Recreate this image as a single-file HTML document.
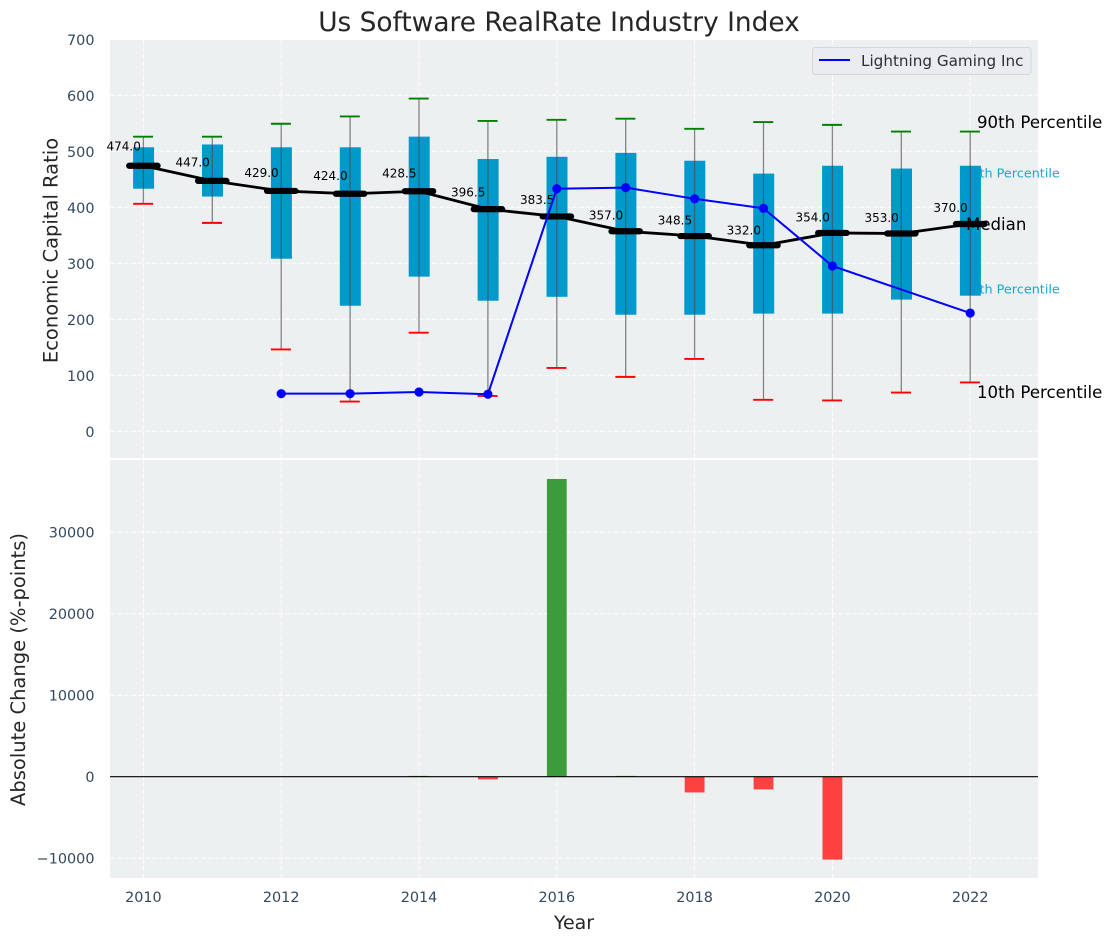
<!DOCTYPE html>
<html lang="en">
<head>
<meta charset="utf-8">
<title>Us Software RealRate Industry Index</title>
<style>
html,body{margin:0;padding:0;background:#fff;width:1112px;height:942px;overflow:hidden}
svg{display:block;font-family:"DejaVu Sans","Liberation Sans",sans-serif}
</style>
</head>
<body>
<svg id="chart" xmlns="http://www.w3.org/2000/svg" width="1112" height="942" viewBox="0 0 1112 942"></svg>
<script>
const years = [2010,2011,2012,2013,2014,2015,2016,2017,2018,2019,2020,2021,2022];
const p90 = [526,526,549,562,594,554,556,558,540,552,547,535,535];
const p75 = [507,512,507,507,526,486,490,497,483,460,474,469,474];
const medians = [474,447,429,424,428.5,396.5,383.5,357,348.5,332,354,353,370];
const p25 = [433,419,308,224,276,233,240,208,208,210,210,235,242];
const p10 = [406,372,146,53,176,63,113,97,129,56,55,69,87];
const company = [null,null,67,67,70,66,433,435,415,398,295,null,211];
const changes = [0,0,0,0,100,-330,36530,100,-1930,-1560,-10170,0,0];
const xTicks = [2010,2012,2014,2016,2018,2020,2022];
const topTicks = [0,100,200,300,400,500,600,700];
const bottomTicks = [-10000,0,10000,20000,30000];

const NS = 'http://www.w3.org/2000/svg';
const svg = document.getElementById('chart');
const PL = 110, PR = 1038, TT = 40, TB = 458, BT = 460, BB = 878;
function xPos(v){ return 143.4 + (v - 2010) * 68.9; }
function yTop(v){ return 431.2 - v * 0.56; }
function yBottom(v){ return 776.7 - v * 0.00815; }

function make(tag, attrs, text, parent){
  const el = document.createElementNS(NS, tag);
  for (const k in attrs) el.setAttribute(k, attrs[k]);
  if (text !== undefined && text !== null) el.textContent = text;
  (parent || svg).appendChild(el);
  return el;
}

// plot backgrounds
const topBg = make('rect',{x:PL,y:TT,width:PR-PL,height:TB-TT,fill:'#ecf0f1'});


const bottomBg = make('rect',{x:PL,y:BT,width:PR-PL,height:BB-BT,fill:'#ecf0f1'});



const GRID = {stroke:'#ffffff','stroke-width':1,'stroke-dasharray':'5 2',opacity:0.9};
function gridLine(x1,y1,x2,y2){
  const l = make('line',Object.assign({x1:x1,y1:y1,x2:x2,y2:y2},GRID));
  
  
}
xTicks.forEach(function(t){
  gridLine(xPos(t),TT,xPos(t),TB);
  gridLine(xPos(t),BT,xPos(t),BB);
  const lab = make('text',{x:xPos(t),y:902,'text-anchor':'middle','font-size':14.4,fill:'#34495e'},String(t));
  
  
});
topTicks.forEach(function(t){
  gridLine(PL,yTop(t),PR,yTop(t));
  const lab = make('text',{x:94.5,y:yTop(t)+5.8,'text-anchor':'end','font-size':14.4,fill:'#34495e'},String(t));
  
  
});
bottomTicks.forEach(function(t){
  gridLine(PL,yBottom(t),PR,yBottom(t));
  const lab = make('text',{x:94.5,y:yBottom(t)+5.3,'text-anchor':'end','font-size':14.4,fill:'#34495e'},(t<0?'\u2212':'')+Math.abs(t));
  
  
});

// percentile labels that sit behind the last box
const last = years.length - 1;
const label75 = make('text',{x:xPos(years[last])-7,y:yTop(p75[last])+11.7,'font-size':12.8,fill:'#00a0cc',opacity:0.9},'75th Percentile');


const label25 = make('text',{x:xPos(years[last])-7,y:yTop(p25[last])-2.2,'font-size':12.8,fill:'#00a0cc',opacity:0.9},'25th Percentile');



// boxes, whiskers and caps
years.forEach(function(yr,i){
  const cx = xPos(yr);
  const box = make('rect',{x:cx-10.3,y:yTop(p75[i]),width:21,height:yTop(p25[i])-yTop(p75[i]),fill:'#0099cc'});
  
  
  const whisker = make('line',{x1:cx,y1:yTop(p90[i]),x2:cx,y2:yTop(p10[i]),stroke:'#4a4a4a','stroke-width':1.3,opacity:0.65});
  
  
  const capTop = make('line',{x1:cx-10.3,y1:yTop(p90[i]),x2:cx+9.7,y2:yTop(p90[i]),stroke:'#008000','stroke-width':1.9});
  
  
  const capBottom = make('line',{x1:cx-10.3,y1:yTop(p10[i]),x2:cx+9.7,y2:yTop(p10[i]),stroke:'#ff0000','stroke-width':1.9});
  
  
});

// median line
const medianPts = years.map(function(yr,i){ return xPos(yr)+','+yTop(medians[i]); }).join(' ');
const medianLine = make('polyline',{points:medianPts,fill:'none',stroke:'#000000','stroke-width':2.8});


years.forEach(function(yr,i){
  const cx = xPos(yr), cy = yTop(medians[i]);
  const seg = make('line',{x1:cx-14.2,y1:cy,x2:cx+14.2,y2:cy,stroke:'#000000','stroke-width':6.2,'stroke-linecap':'round'});
  
  
  const val = make('text',{x:cx-2.5,y:yTop(medians[i]*1.056)-0.4,'text-anchor':'end','font-size':12,fill:'#000000'},medians[i].toFixed(1));
  
  
});

// company series
const companyPts = [];
years.forEach(function(yr,i){ if (company[i] !== null) companyPts.push(xPos(yr)+','+yTop(company[i])); });
const companyLine = make('polyline',{points:companyPts.join(' '),fill:'none',stroke:'#0000ff','stroke-width':2});


years.forEach(function(yr,i){
  if (company[i] === null) return;
  const dot = make('circle',{cx:xPos(yr),cy:yTop(company[i]),r:4.6,fill:'#0000ff'});
  
  
});

// right-side annotations
const label90 = make('text',{x:977,y:128,'font-size':16.6,fill:'#000000'},'90th Percentile');


const labelMedian = make('text',{x:966,y:230,'font-size':16.6,fill:'#000000'},'Median');


const label10 = make('text',{x:977,y:398,'font-size':16.6,fill:'#000000'},'10th Percentile');



// change bars
years.forEach(function(yr,i){
  const v = changes[i];
  if (v === 0) return;
  const y0 = yBottom(0), y1 = yBottom(v);
  const bar = make('rect',{x:xPos(yr)-9.9,y:Math.min(y0,y1),width:19.8,height:Math.abs(y1-y0),fill:v>0?'#3c9c3c':'#ff4040'});
  
  
});
const zeroLine = make('line',{x1:PL,y1:yBottom(0),x2:PR,y2:yBottom(0),stroke:'#000000','stroke-width':1.2});



// legend
const legend = make('g',{});


make('rect',{x:812.5,y:47.5,width:218.5,height:27,rx:3,fill:'#eaecf0',stroke:'#d4d6da','stroke-width':1},null,legend);
const legendSwatch = make('line',{x1:819,y1:60,x2:850,y2:60,stroke:'#0000ff','stroke-width':2},null,legend);


const legendText = make('text',{x:861,y:66,'font-size':15.2,fill:'#2b2f36'},'Lightning Gaming Inc',legend);



// titles
const title = make('text',{x:559,y:31,'text-anchor':'middle','font-size':26.4,fill:'#262626'},'Us Software RealRate Industry Index');


const xTitle = make('text',{x:574,y:929,'text-anchor':'middle','font-size':19,fill:'#262626'},'Year');


const yTitleTop = make('text',{x:0,y:0,'text-anchor':'middle','font-size':19.5,fill:'#262626',transform:'translate(57.5,250.5) rotate(-90)'},'Economic Capital Ratio');


const yTitleBottom = make('text',{x:0,y:0,'text-anchor':'middle','font-size':19.5,fill:'#262626',transform:'translate(25,669.5) rotate(-90)'},'Absolute Change (%-points)');


</script>
</body>
</html>
